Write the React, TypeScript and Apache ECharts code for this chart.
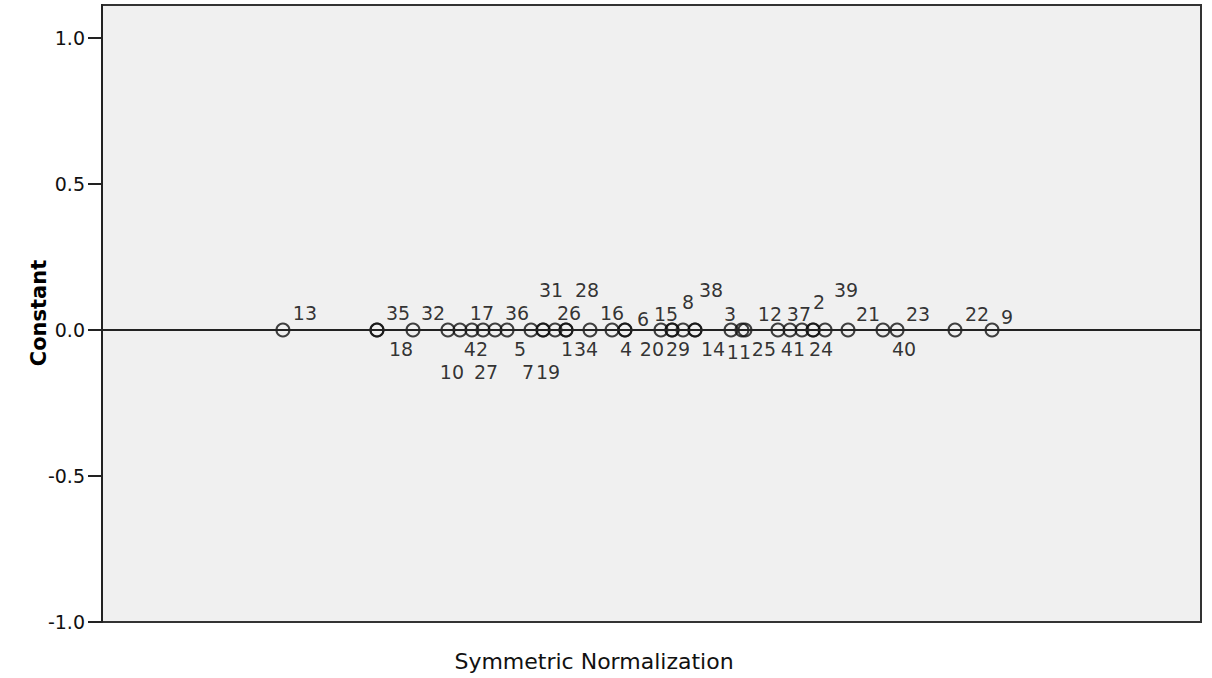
import React, { useEffect, useRef } from "react";
import * as echarts from "echarts";

// Case labels (object numbers) as printed next to the points
const caseLabels = [
  "13", "35", "18", "32", "10", "42", "17", "27", "36", "5",
  "7", "19", "31", "1", "26", "34", "28", "16", "4", "6",
  "20", "15", "29", "8", "38", "14", "3", "11", "25", "12",
  "41", "37", "2", "24", "39", "21", "40", "23", "22", "9",
];

// Dimension score (Symmetric Normalization) for each case
const caseScores = [
  -2.457, -1.83, -1.83, -1.59, -1.357, -1.277, -1.197, -1.123, -1.043, -0.963,
  -0.803, -0.723, -0.723, -0.643, -0.57, -0.57, -0.41, -0.263, -0.177, -0.177,
  0.063, 0.137, 0.137, 0.21, 0.29, 0.29, 0.53, 0.603, 0.623, 0.843,
  0.923, 1.003, 1.077, 1.077, 1.157, 1.31, 1.543, 1.637, 2.023, 2.27,
];

// Constant dimension value for each case
const caseConstant = [
  0, 0, 0, 0, 0, 0, 0, 0, 0, 0,
  0, 0, 0, 0, 0, 0, 0, 0, 0, 0,
  0, 0, 0, 0, 0, 0, 0, 0, 0, 0,
  0, 0, 0, 0, 0, 0, 0, 0, 0, 0,
];

// y-axis tick values
const yTicks = [-1, -0.5, 0, 0.5, 1];

// label placement (pixel offsets from the point), layout only
const labelOffsets: [number, number][] = [
  [22, -17], [21, -17], [24, 19], [20, -17], [4, 42], [16, 19], [10, -17], [3, 42], [22, -17], [13, 19],
  [-3, 42], [5, 42], [8, -40], [12, 19], [3, -17], [20, 19], [-3, -40], [0, -17], [1, 19], [18, -11],
  [-9, 19], [-6, -16], [6, 19], [5, -28], [16, -40], [18, 19], [-1, -16], [-3, 22], [19, 19], [-8, -16],
  [3, 19], [-3, -16], [6, -28], [8, 19], [21, -40], [20, -16], [21, 19], [21, -16], [22, -16], [15, -13],
];

const X_MIN = -3.663;
const X_MAX = 3.663;
const Y_MIN = -1;
const Y_MAX = 1.113;

export default function App() {
  const ref = useRef<HTMLDivElement>(null);
  useEffect(() => {
    if (!ref.current) return;
    const chart = echarts.init(ref.current, undefined, { renderer: "svg" });
    const data = caseLabels.map((name, i) => ({
      name,
      value: [caseScores[i], caseConstant[i]],
      label: { offset: labelOffsets[i] },
    }));
    chart.setOption({
      animation: false,
      backgroundColor: "#ffffff",
      grid: {
        left: 102,
        right: 11,
        top: 5,
        bottom: 56,
        show: true,
        backgroundColor: "#f0f0f0",
        borderColor: "#333",
        borderWidth: 2,
      },
      xAxis: {
        type: "value",
        min: X_MIN,
        max: X_MAX,
        show: false,
      },
      yAxis: {
        type: "value",
        min: Y_MIN,
        max: Y_MAX,
        interval: 0.5,
        axisLine: { show: true, onZero: false, lineStyle: { color: "#222", width: 2 } },
        axisTick: {
          show: true,
          length: 14,
          customValues: yTicks,
          lineStyle: { color: "#222", width: 2 },
        },
        axisLabel: {
          customValues: yTicks,
          margin: 17,
          fontSize: 19,
          fontFamily: "DejaVu Sans",
          color: "#111",
          formatter: (v: number) => v.toFixed(1),
        },
        splitLine: { show: false },
      },
      graphic: [
        {
          type: "text",
          x: 594,
          y: 661,
          style: {
            text: "Symmetric Normalization",
            fontSize: 22,
            fontFamily: "DejaVu Sans",
            fill: "#111",
            textAlign: "center",
            textVerticalAlign: "middle",
          },
        },
        {
          type: "text",
          x: 39,
          y: 313,
          rotation: Math.PI / 2,
          style: {
            text: "Constant",
            fontSize: 21,
            fontWeight: "bold",
            fontFamily: "DejaVu Sans",
            fill: "#000",
            textAlign: "center",
            textVerticalAlign: "middle",
          },
        },
      ],
      series: [
        {
          type: "scatter",
          data,
          symbol: "circle",
          symbolSize: 13,
          itemStyle: {
            color: "rgba(0,0,0,0)",
            borderColor: "#111",
            borderWidth: 2,
          },
          label: {
            show: true,
            position: "inside",
            formatter: "{b}",
            fontSize: 19,
            fontFamily: "DejaVu Sans",
            color: "#000",
          },
          markLine: {
            silent: true,
            symbol: ["none", "none"],
            label: { show: false },
            lineStyle: { color: "#222", width: 2, type: "solid" },
            data: [{ yAxis: 0 }],
          },
          z: 3,
        },
      ],
    });
    return () => chart.dispose();
  }, []);
  return (
    <div
      ref={ref}
      style={{ position: "absolute", left: 0, top: 0, width: 1212, height: 678 }}
    />
  );
}
